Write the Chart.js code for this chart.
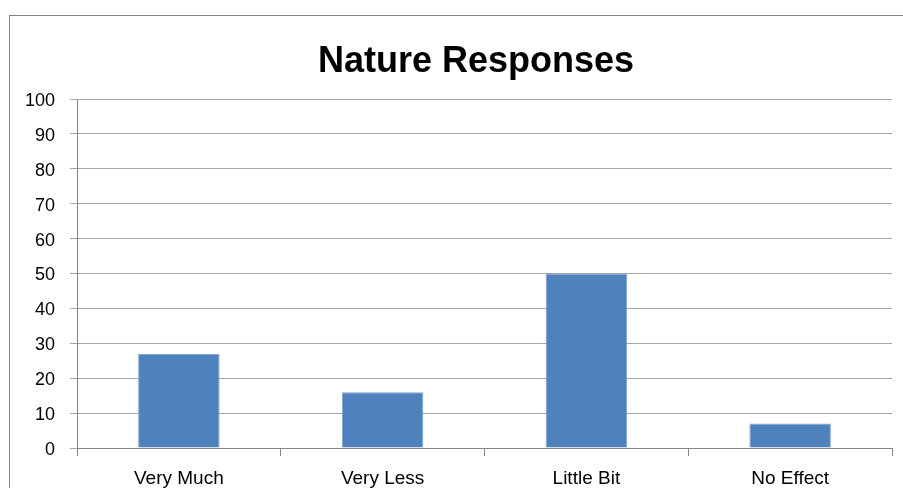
<!DOCTYPE html>
<html>
<head>
<meta charset="utf-8">
<script src="https://cdn.jsdelivr.net/npm/chart.js@4"></script>
<style>
  html, body { margin: 0; padding: 0; background: #fff; }
  #wrap { width: 903px; height: 488px; position: relative; }
</style>
</head>
<body>
<div id="wrap"><canvas id="c" width="903" height="488"></canvas></div>
<script>
const categories = ['Very Much', 'Very Less', 'Little Bit', 'No Effect'];
const responses = [27, 16, 50, 7];
const yTicks = [0, 10, 20, 30, 40, 50, 60, 70, 80, 90, 100];
const chartTitle = 'Nature Responses';

const FONT = "'Liberation Sans', Arial, sans-serif";

// Outer frame around the chart (running off the right and bottom edges) and the heading
const framePlugin = {
  id: 'frame',
  beforeDraw(chart) {
    const ctx = chart.ctx;
    ctx.save();
    ctx.fillStyle = '#fff';
    ctx.fillRect(0, 0, chart.width, chart.height);
    ctx.strokeStyle = '#868686';
    ctx.lineWidth = 1;
    ctx.strokeRect(9.5, 15.5, chart.width + 20, chart.height + 20);
    ctx.restore();
  },
  afterDraw(chart) {
    const ctx = chart.ctx;
    ctx.save();
    ctx.fillStyle = '#000';
    ctx.font = `bold 36px ${FONT}`;
    ctx.textAlign = 'center';
    ctx.textBaseline = 'alphabetic';
    ctx.fillText(chartTitle, 476, 72);
    ctx.restore();
  }
};

new Chart(document.getElementById('c'), {
  type: 'bar',
  data: {
    labels: categories,
    datasets: [{
      data: responses,
      backgroundColor: '#4F81BD',
      borderColor: '#7FA3D3',
      borderWidth: 1,
      barPercentage: 0.4,
      categoryPercentage: 1.0
    }]
  },
  options: {
    responsive: false,
    animation: false,
    layout: { padding: { left: 0, right: 11, top: 99, bottom: 0 } },
    plugins: {
      legend: { display: false },
      tooltip: { enabled: false },
      title: { display: false }
    },
    scales: {
      x: {
        offset: true,
        grid: {
          display: true,
          offset: true,
          drawOnChartArea: false,
          drawTicks: true,
          tickLength: 8,
          color: '#868686'
        },
        border: { display: true, color: '#868686' },
        ticks: {
          color: '#000',
          font: { family: FONT, size: 19 },
          padding: 11,
          maxRotation: 0
        },
        afterFit(scale) { scale.height = 40; }
      },
      y: {
        min: 0,
        max: 100,
        afterBuildTicks(scale) { scale.ticks = yTicks.map(v => ({ value: v })); },
        grid: {
          color: '#A6A6A6',
          drawTicks: true,
          tickLength: 7
        },
        border: { display: true, color: '#868686' },
        ticks: {
          color: '#000',
          font: { family: FONT, size: 18 },
          padding: 15,
          labelOffset: 2
        },
        afterFit(scale) { scale.width = 77; }
      }
    }
  },
  plugins: [framePlugin]
});
</script>
</body>
</html>
